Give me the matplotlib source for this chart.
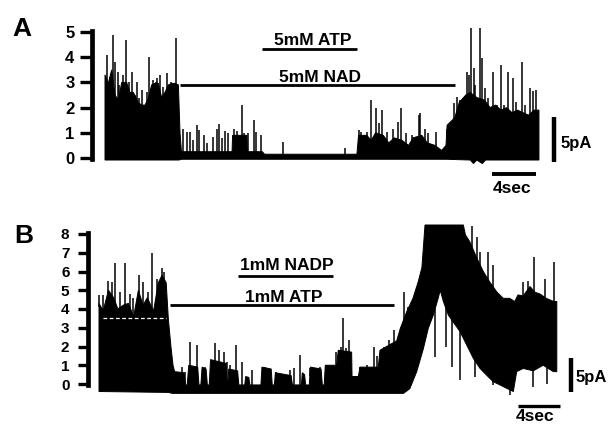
import matplotlib
matplotlib.use("Agg")
import matplotlib.pyplot as plt
import numpy as np

plt.rcParams['font.family'] = ['Liberation Sans', 'DejaVu Sans']
plt.rcParams['font.weight'] = 'bold'

# ---------------- Panel A data (time in s, current in tick units) ----------------
a_ticks = [0, 1, 2, 3, 4, 5]
a_band_t = [0.0, 0.3, 0.61, 0.91, 1.21, 1.52, 1.97, 2.27, 2.58, 3.03, 3.33, 3.64, 3.94, 4.24,
            4.55, 4.85, 5.15, 5.45, 5.76, 6.06, 6.36, 6.67, 6.82,
            6.95, 11.55, 11.6, 12.9, 12.95, 14.3, 14.5, 22.9,
            23.05, 23.8, 24.2, 24.6, 25.3, 25.8, 26.3, 27.0, 27.6, 28.0, 28.8, 29.3, 30.0, 30.6,
            31.0, 31.1, 31.8, 32.2, 32.8, 33.2, 33.8, 34.5, 35.0, 35.5, 36.0, 36.5, 37.0, 37.5,
            38.0, 38.5, 39.0, 39.45]
a_band_hi = [3.3, 2.96, 3.5, 2.5, 2.3, 3.0, 3.0, 2.6, 2.6, 2.2, 2.1, 2.1, 2.37, 2.9,
             2.96, 2.96, 2.4, 2.6, 2.9, 2.96, 2.96, 2.9, 1.0,
             0.25, 0.25, 0.9, 0.9, 0.25, 0.25, 0.15, 0.15,
             0.9, 0.9, 0.7, 1.0, 0.9, 0.6, 0.8, 0.7, 0.5, 0.8, 0.9, 0.6, 0.5, 0.3,
             0.5, 1.3, 1.6, 2.2, 2.5, 2.6, 2.4, 2.3, 2.0, 2.1, 1.9, 2.0, 1.8, 1.9,
             1.8, 1.7, 1.9, 1.9]
a_lo_t = [0.0, 6.7, 7.0, 31.0, 33.2, 33.5, 33.8, 34.3, 34.6, 39.45]
a_lo_v = [-0.08, -0.08, -0.05, -0.05, -0.08, -0.22, -0.08, -0.22, -0.08, -0.08]
a_spk_t = [0.2, 0.45, 0.7, 0.91, 1.2, 1.3, 1.67, 1.91, 2.2, 2.42, 2.73, 2.9, 3.12, 3.33, 3.79,
           4.0, 4.4, 4.6, 4.7, 5.0, 5.3, 5.6, 5.97, 6.2, 6.45,
           7.12, 7.48, 7.73, 8.03, 8.4, 8.57, 9.0, 9.3, 9.79, 10.15, 10.4, 10.67, 10.9, 11.2,
           11.7, 12.0, 12.42, 12.67, 13.03, 13.5, 13.7, 14.2, 16.2, 21.8,
           23.1, 23.3, 23.8, 24.2, 24.6, 24.9, 25.2,
           25.6, 26.2, 26.6, 26.9, 27.4, 27.9, 28.5, 28.6, 29.1, 29.4, 30.1, 31.06, 31.4, 31.7,
           32.0, 32.3, 32.5, 32.9, 33.1, 33.3, 33.5, 33.6, 34.1, 34.3, 34.5, 34.8, 35.3, 35.6,
           36.0, 36.3, 36.6, 37.1, 37.4, 37.9, 38.2, 38.6, 38.9, 39.2]
a_spk_v = [4.09, 3.2, 4.88, 3.82, 3.4, 2.9, 3.3, 4.68, 3.03, 3.43, 2.5, 3.0, 2.37, 2.7, 2.63,
           4.02, 3.1, 3.0, 3.16, 3.3, 2.83, 3.36, 3.0, 2.77, 4.75,
           1.17, 1.04, 1.04, 0.71, 1.3, 1.1, 0.9, 0.58, 0.85, 1.17, 1.33, 0.8, 1.07, 0.98,
           1.17, 1.07, 2.1, 0.98, 0.98, 1.51, 1.04, 0.9, 0.65, 0.4,
           1.1, 1.05, 1.05, 2.3, 1.98, 1.38, 1.9,
           1.04, 1.17, 1.44, 1.97, 0.98, 0.91, 1.71, 1.77, 1.17, 0.98, 1.04, 1.17, 1.31, 2.17,
           2.43, 2.30, 2.37, 3.43, 3.29, 5.15, 3.56, 2.9, 5.15, 3.96, 2.77, 2.37, 3.43, 2.1,
           3.69, 2.1, 3.43, 3.16, 2.24, 3.82, 2.1, 2.77, 2.64, 2.7]
a_drugs = ["5mM ATP", "5mM NAD"]
a_drug_start = [14.27, 6.82]
a_drug_end = [22.9, 31.8]
a_drug_level = [4.33, 2.9]

# ---------------- Panel B data ----------------
b_ticks = [0, 1, 2, 3, 4, 5, 6, 7, 8]
b_band_t = [0.0, 0.4, 0.9, 1.4, 1.8, 2.3, 2.8, 3.3, 3.75, 4.2, 4.6, 5.2, 5.65, 6.0, 6.4, 6.6, 6.85,
            7.05, 7.2, 8.1, 8.25, 8.4, 8.55, 9.4, 9.52, 9.7, 9.82, 10.2, 10.32, 10.5, 10.62,
            12.1, 12.2, 12.26, 12.36, 13.2, 13.32, 13.88, 13.97, 14.27, 14.37, 15.42, 15.52,
            16.4, 16.5, 16.7, 16.8, 18.3, 18.42, 19.28, 19.36, 19.58, 19.68, 20.03, 20.13,
            21.15, 21.27, 21.45, 21.55, 22.63, 22.79, 24.06, 24.1, 24.7, 24.86, 26.6, 26.76,
            27.7, 28.35, 28.7, 29.3, 29.9, 30.4, 30.75, 31.05,
            34.7, 34.9, 35.3, 36.0, 36.6, 37.2, 37.9, 38.5, 39.1, 39.6, 39.9, 40.4, 41.05, 41.5,
            42.0, 42.6, 43.3, 43.6]
b_band_hi = [4.3, 3.9, 5.0, 4.6, 4.0, 4.2, 4.3, 3.6, 5.0, 4.2, 4.6, 3.9, 5.4, 5.8, 5.4, 3.5, 2.0,
             1.0, 0.66, 0.6, -0.05, -0.05, 1.0, 0.9, -0.05, -0.05, 0.9, 0.8, -0.05, -0.05, 1.3,
             1.1, -0.05, -0.05, 0.8, 0.7, -0.05, -0.05, 0.4, 0.35, -0.05, -0.05, 0.9,
             0.8, -0.05, -0.05, 0.6, 0.45, -0.05, -0.05, 0.6, 0.5, -0.05, -0.05, 0.9,
             0.8, -0.05, -0.05, 1.0, 1.0, 1.8, 1.7, 0.4, 0.4, 0.9, 0.9, 1.8,
             2.1, 2.3, 2.97, 3.85, 4.57, 5.45, 6.2, 8.48,
             8.48, 7.95, 7.6, 6.7, 6.0, 5.45, 4.9, 4.57, 4.57, 4.4, 4.75, 4.7, 5.2, 4.9,
             4.8, 4.57, 4.4, 4.4]
b_lo_t = [0.0, 6.6, 7.0, 29.0, 29.6, 30.26, 30.9, 31.36, 31.84, 32.3, 32.5, 32.8, 33.27, 33.74,
          34.38, 35.0, 35.65, 36.29, 36.9, 37.55, 38.19, 38.83, 39.46, 39.78, 40.4, 41.36, 42.3,
          43.27, 43.6]
b_lo_v = [-0.4, -0.45, -0.5, -0.5, -0.25, 0.66, 1.9, 2.97, 3.68, 4.57, 5.0, 4.4, 3.68, 3.3,
          2.8, 2.1, 1.37, 0.83, 0.48, 0.12, -0.05, -0.23, -0.4, 0.66, 0.83, 0.7, 1.0,
          0.66, 0.66]
b_spk_t = [0.0, 0.41, 0.9, 1.2, 1.52, 2.0, 2.48, 2.95, 3.27, 3.8, 4.2, 4.7, 5.0, 5.5, 5.97, 6.2,
           7.9, 8.2, 8.67, 9.3, 10.1, 11.0, 11.4,
           11.9, 12.2, 12.5, 13.0, 13.6, 14.6, 15.8, 16.9, 18.2, 18.6, 19.1, 20.1, 20.6, 21.0,
           21.8, 22.6, 23.0, 23.2, 23.5, 23.8, 24.9, 25.5, 26.2, 26.5, 27.1, 27.6, 28.1, 29.0,
           29.45, 35.5, 36.0, 36.3, 37.0, 37.55, 40.4, 40.9, 41.4, 42.5, 43.3]
b_spk_v = [4.75, 4.75, 5.5, 5.45, 6.44, 4.9, 6.44, 4.8, 4.57, 5.8, 5.45, 4.9, 6.97, 5.6, 6.2, 6.0,
           0.9, 0.65, 2.26, 2.09, 0.9, 2.17, 1.81,
           1.72, 1.2, 1.0, 2.08, 1.2, 0.75, 0.9, 0.65, 0.75, 0.85, 1.55, 0.83, 0.85, 0.9,
           1.0, 1.7, 1.99, 3.5, 1.9, 2.35, 0.9, 1.0, 1.99, 1.5, 1.99, 2.35, 2.88, 4.9,
           4.1, 8.4, 7.86, 7.06, 7.06, 6.35, 5.45, 5.5, 6.8, 5.6, 6.5]
b_dspk_t = [32.0, 33.0, 33.6, 34.4, 35.8, 37.5, 39.1, 41.3, 42.7]
b_dspk_v = [1.45, 2.0, 0.92, 0.2, 0.4, -0.05, -0.6, -0.15, 0.0]
b_dash_t = [0.4, 6.4]
b_dash_v = [3.5, 3.5]
b_drugs = ["1mM NADP", "1mM ATP"]
b_drug_start = [13.24, 6.76]
b_drug_end = [22.3, 28.1]
b_drug_level = [5.76, 4.21]

# ---------------- figure ----------------
W, H = 613, 425
fig = plt.figure(figsize=(W / 100, H / 100), dpi=100)


def make_axes(x0_px, y_top_px, y_bot_px, t0_px, px_per_s, v0_py, py_per_v):
    ax = fig.add_axes([x0_px / W, 1 - y_bot_px / H, (W - x0_px) / W, (y_bot_px - y_top_px) / H])
    ax.set_xlim((x0_px - t0_px) / px_per_s, (W - t0_px) / px_per_s)
    ax.set_ylim((v0_py - y_bot_px) / py_per_v, (v0_py - y_top_px) / py_per_v)
    ax.patch.set_visible(False)
    return ax


def style(ax, ticks, fs, tlen, pad):
    for s in ['top', 'right', 'bottom']:
        ax.spines[s].set_visible(False)
    ax.spines['left'].set_bounds(ticks[0] - 0.05, ticks[-1] + 0.05)
    ax.spines['left'].set_linewidth(3.4)
    ax.set_xticks([])
    ax.set_yticks(ticks)
    ax.set_yticklabels([str(t) for t in ticks], fontweight='bold')
    ax.tick_params(axis='y', direction='out', length=tlen, width=2.4, pad=pad,
                   labelsize=fs, colors='black')


def draw_trace(ax, band_t, band_hi, lo_t, lo_v, spk_t, spk_v):
    band_t = np.asarray(band_t); band_hi = np.asarray(band_hi)
    lo_t = np.asarray(lo_t); lo_v = np.asarray(lo_v)
    xs = np.concatenate([band_t, lo_t[::-1]])
    ys = np.concatenate([band_hi, lo_v[::-1]])
    ax.fill(xs, ys, facecolor='black', edgecolor='black', lw=0.7)
    spk_t = np.asarray(spk_t)
    base = np.interp(spk_t, band_t, band_hi) - 0.2
    ax.vlines(spk_t, base, spk_v, color='black', lw=1.1)


# Panel A
axA = make_axes(91.5, 5, 200, 105, 11, 158, 25.2)
style(axA, a_ticks, 12, 8.3, 4.0)
draw_trace(axA, a_band_t, a_band_hi, a_lo_t, a_lo_v, a_spk_t, a_spk_v)
for name, s, e, lv in zip(a_drugs, a_drug_start, a_drug_end, a_drug_level):
    axA.plot([s, e], [lv, lv], color='black', lw=2.0, solid_capstyle='butt')
axA.text(18.9, 4.48, a_drugs[0], ha='center', va='baseline', fontsize=12.5, fontweight='bold')
axA.text(19.55, 3.03, a_drugs[1], ha='center', va='baseline', fontsize=12.5, fontweight='bold')
axA.plot([40.8, 40.8], [-0.16, 1.63], color='black', lw=3.2, solid_capstyle='butt', clip_on=False)
axA.plot([35.18, 39.18], [-0.635, -0.635], color='black', lw=2.8, solid_capstyle='butt', clip_on=False)
axA.text(37.05, -1.39, "4sec", ha='center', va='baseline', fontsize=12.5, fontweight='bold')
axA.text(41.45, 0.40, "5pA", ha='left', va='baseline', fontsize=12, fontweight='bold')

# Panel B
axB = make_axes(87.5, 212, 425, 99, 10.5, 384, 18.75)
style(axB, b_ticks, 11, 7.5, 5.5)
draw_trace(axB, b_band_t, b_band_hi, b_lo_t, b_lo_v, b_spk_t, b_spk_v)
d_top = np.interp(b_dspk_t, b_lo_t, b_lo_v) + 0.2
axB.vlines(b_dspk_t, b_dspk_v, d_top, color='black', lw=1.1)
axB.plot(b_dash_t, b_dash_v, color='white', lw=0.9, linestyle=(0, (3, 2)))
for name, s, e, lv in zip(b_drugs, b_drug_start, b_drug_end, b_drug_level):
    axB.plot([s, e], [lv, lv], color='black', lw=2.0, solid_capstyle='butt')
axB.text(17.9, 6.08, b_drugs[0], ha='center', va='baseline', fontsize=12.5, fontweight='bold')
axB.text(17.55, 4.39, b_drugs[1], ha='center', va='baseline', fontsize=12.5, fontweight='bold')
axB.plot([44.95, 44.95], [-0.427, 1.387], color='black', lw=3.2, solid_capstyle='butt', clip_on=False)
axB.plot([39.9, 43.9], [-1.147, -1.147], color='black', lw=2.4, solid_capstyle='butt', clip_on=False)
axB.text(41.57, -1.98, "4sec", ha='center', va='baseline', fontsize=12.5, fontweight='bold')
axB.text(45.43, 0.12, "5pA", ha='left', va='baseline', fontsize=12, fontweight='bold')

# Panel letters
fig.text(22 / W, 1 - 36 / H, "A", ha='center', va='baseline', fontsize=19, fontweight='bold')
fig.text(24 / W, 1 - 243 / H, "B", ha='center', va='baseline', fontsize=19, fontweight='bold')

fig.savefig("out.png", dpi=100)
